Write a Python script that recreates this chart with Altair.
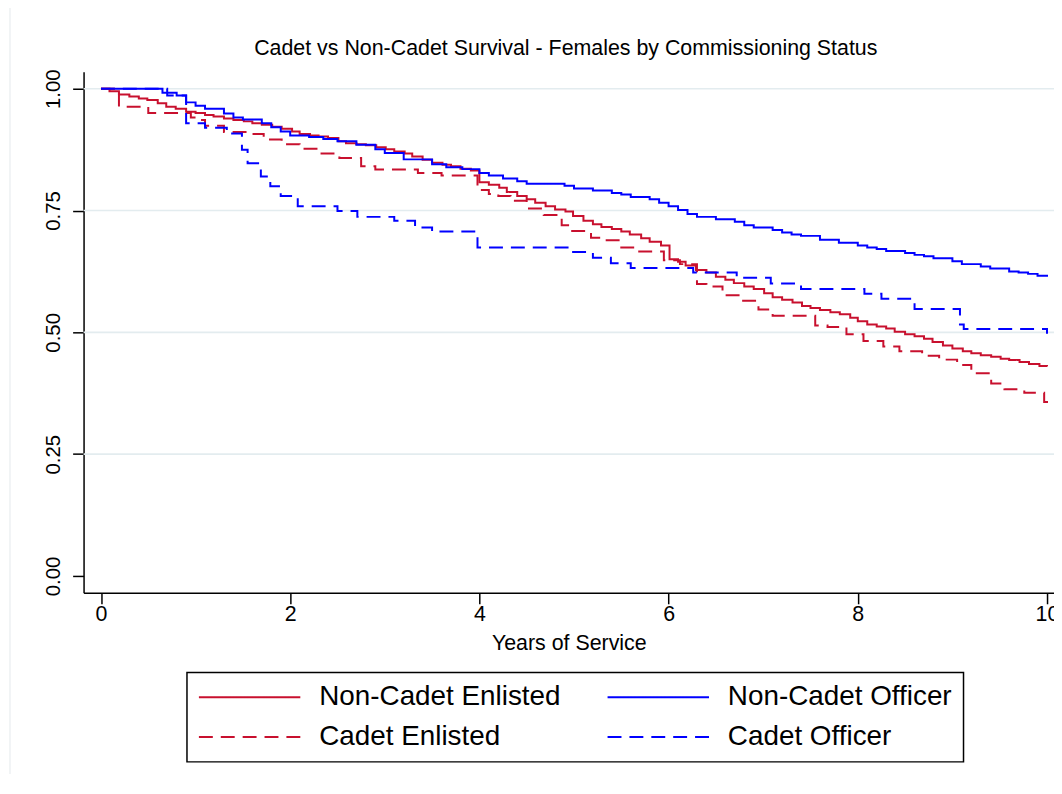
import altair as alt
import pandas as pd

TITLE = "Cadet vs Non-Cadet Survival - Females by Commissioning Status"
X_TITLE = "Years of Service"
series_names = ["Non-Cadet Enlisted", "Non-Cadet Officer", "Cadet Enlisted", "Cadet Officer"]
series_colors = ["#C8102E", "#0000FF", "#C8102E", "#0000FF"]
series_dash = [[1, 0], [1, 0], [14, 8], [14, 8]]
x_ticks = [0, 2, 4, 6, 8, 10]
y_ticks = [0, 0.25, 0.5, 0.75, 1.0]
grid_values = [0.25, 0.5, 0.75, 1.0]

# Non-Cadet Enlisted (red solid)
nce_t = [0, 0.09, 0.19, 0.3, 0.4, 0.49, 0.6, 0.69, 0.79, 0.9,
         1.0, 1.1, 1.19, 1.3, 1.4, 1.51, 1.6, 1.7, 1.81, 1.91,
         2.02, 2.1, 2.21, 2.3, 2.4, 2.51, 2.59, 2.7, 2.8, 2.91,
         3.01, 3.1, 3.21, 3.29, 3.4, 3.5, 3.61, 3.7, 3.8, 3.91,
         4.0, 4.1, 4.21, 4.29, 4.4, 4.5, 4.59, 4.7, 4.8, 4.91,
         4.99, 5.1, 5.2, 5.29, 5.4, 5.5, 5.59, 5.71, 5.8, 5.92,
         6.01, 6.1, 6.18, 6.29, 6.4, 6.5, 6.6, 6.69, 6.8, 6.9,
         7.01, 7.1, 7.2, 7.31, 7.41, 7.5, 7.6, 7.71, 7.81, 7.92,
         8.0, 8.1, 8.2, 8.3, 8.39, 8.5, 8.6, 8.7, 8.79, 8.9,
         9.0, 9.11, 9.2, 9.3, 9.41, 9.51, 9.6, 9.71, 9.81, 9.92,
         10.0]
nce_s = [1.0, 0.995, 0.988, 0.984, 0.98, 0.977, 0.97, 0.963, 0.959, 0.953,
         0.95, 0.946, 0.943, 0.939, 0.936, 0.933, 0.929, 0.926, 0.922, 0.918,
         0.912, 0.907, 0.904, 0.902, 0.899, 0.892, 0.888, 0.886, 0.884, 0.88,
         0.876, 0.871, 0.867, 0.861, 0.854, 0.848, 0.844, 0.841, 0.836, 0.832,
         0.808, 0.803, 0.797, 0.788, 0.78, 0.773, 0.766, 0.759, 0.752, 0.748,
         0.739, 0.729, 0.722, 0.716, 0.712, 0.707, 0.701, 0.693, 0.686, 0.678,
         0.65, 0.645, 0.637, 0.628, 0.623, 0.614, 0.608, 0.601, 0.594, 0.589,
         0.58, 0.572, 0.567, 0.561, 0.554, 0.55, 0.546, 0.541, 0.537, 0.53,
         0.523, 0.516, 0.512, 0.508, 0.501, 0.496, 0.492, 0.487, 0.48, 0.473,
         0.467, 0.461, 0.457, 0.453, 0.45, 0.446, 0.443, 0.439, 0.435, 0.431,
         0.43]

# Non-Cadet Officer (blue solid)
nco_t = [0, 0.65, 0.8, 0.9, 1.0, 1.1, 1.3, 1.4, 1.5, 1.7,
         1.8, 1.9, 2.0, 2.2, 2.35, 2.5, 2.7, 2.9, 3.0, 3.2,
         3.5, 3.65, 3.82, 4.0, 4.1, 4.25, 4.4, 4.5, 4.9, 5.0,
         5.2, 5.4, 5.5, 5.6, 5.8, 5.9, 6.0, 6.1, 6.2, 6.3,
         6.5, 6.7, 6.8, 6.9, 7.1, 7.2, 7.3, 7.4, 7.6, 7.8,
         8.0, 8.1, 8.2, 8.3, 8.5, 8.6, 8.7, 8.8, 9.0, 9.1,
         9.3, 9.4, 9.6, 9.7, 9.8, 9.9, 10.0]
nco_s = [1.0, 0.992, 0.986, 0.972, 0.965, 0.959, 0.949, 0.941, 0.937, 0.929,
         0.921, 0.912, 0.904, 0.901, 0.897, 0.892, 0.885, 0.876, 0.868, 0.855,
         0.845, 0.839, 0.835, 0.827, 0.822, 0.816, 0.81, 0.805, 0.801, 0.795,
         0.791, 0.786, 0.783, 0.778, 0.773, 0.766, 0.759, 0.751, 0.743, 0.737,
         0.732, 0.727, 0.72, 0.715, 0.71, 0.705, 0.701, 0.698, 0.69, 0.684,
         0.678, 0.674, 0.671, 0.667, 0.663, 0.659, 0.656, 0.652, 0.646, 0.64,
         0.635, 0.631, 0.625, 0.623, 0.62, 0.616, 0.614]

# Cadet Enlisted (red dashed)
ce_t = [0, 0.19, 0.5, 0.95, 1.05, 1.1, 1.3, 1.55, 1.72, 1.91,
        2.1, 2.32, 2.52, 2.75, 2.9, 3.35, 3.6, 3.98, 4.1, 4.2,
        4.33, 4.5, 4.68, 4.87, 4.97, 5.18, 5.3, 5.5, 5.66, 5.95,
        6.12, 6.3, 6.4, 6.57, 6.77, 6.95, 7.1, 7.55, 7.68, 7.88,
        8.06, 8.27, 8.44, 8.68, 8.86, 9.05, 9.2, 9.41, 9.55, 9.76,
        9.97, 10.0]
ce_s = [1.0, 0.963, 0.95, 0.941, 0.936, 0.924, 0.911, 0.907, 0.896, 0.886,
        0.877, 0.867, 0.858, 0.841, 0.834, 0.827, 0.822, 0.792, 0.784, 0.78,
        0.77, 0.754, 0.741, 0.72, 0.708, 0.694, 0.689, 0.674, 0.666, 0.648,
        0.64, 0.599, 0.594, 0.576, 0.565, 0.547, 0.534, 0.514, 0.511, 0.496,
        0.482, 0.471, 0.461, 0.452, 0.444, 0.433, 0.416, 0.395, 0.383, 0.376,
        0.357, 0.355]

# Cadet Officer (blue dashed)
co_t = [0, 0.7, 0.9, 1.1, 1.33, 1.49, 1.55, 1.69, 1.79, 1.9,
        2.08, 2.5, 2.71, 3.1, 3.32, 3.5, 3.98, 4.97, 5.2, 5.39,
        5.6, 6.26, 6.72, 7.08, 7.4, 8.07, 8.25, 8.6, 9.08, 9.12,
        10.0]
co_s = [1.0, 0.986, 0.929, 0.92, 0.908, 0.875, 0.847, 0.82, 0.8, 0.78,
        0.759, 0.749, 0.737, 0.729, 0.715, 0.707, 0.674, 0.665, 0.653, 0.642,
        0.632, 0.623, 0.612, 0.6, 0.589, 0.579, 0.569, 0.548, 0.516, 0.507,
        0.497]

rows = []
for name, ts, ss in [(series_names[0], nce_t, nce_s), (series_names[1], nco_t, nco_s),
                     (series_names[2], ce_t, ce_s), (series_names[3], co_t, co_s)]:
    for i, (t, s) in enumerate(zip(ts, ss)):
        rows.append({"series": name, "t": t, "s": s, "i": i})
df = pd.DataFrame(rows)

FONT = "Liberation Sans"
W, H = 976, 524
x_scale = alt.Scale(domain=[-0.184, 10.074], nice=False, zero=False)
y_scale = alt.Scale(domain=[-0.0347, 1.0347], nice=False, zero=False)

x_axis = alt.Axis(values=x_ticks, title=X_TITLE, grid=False, format="d",
                  tickSize=11, tickWidth=1.5, tickColor="black",
                  domainColor="black", domainWidth=1.5,
                  labelFont=FONT, labelFontSize=21.5, labelColor="black",
                  labelPadding=0, labelFlush=False,
                  titleFont=FONT, titleFontSize=21.5, titleFontWeight="normal",
                  titleColor="black", titlePadding=7)
y_axis = alt.Axis(values=y_ticks, title=None, grid=False, format=".2f",
                  tickSize=11, tickWidth=1.5, tickColor="black",
                  domainColor="black", domainWidth=1.5,
                  labelFont=FONT, labelFontSize=20.5, labelColor="black",
                  labelAngle=270, labelAlign="center", labelBaseline="alphabetic",
                  labelPadding=13)

grid = alt.Chart(pd.DataFrame({"s": grid_values})).mark_rule(
    color="#E3ECEF", strokeWidth=1.6
).encode(
    y=alt.Y("s:Q", scale=y_scale, axis=y_axis),
    x=alt.value(0), x2=alt.value(W)
)

# faint outer frame line at the far left of the graph region
frame = alt.Chart(pd.DataFrame({"k": [0]})).mark_rule(
    color="#E9EDEF", strokeWidth=1.2
).encode(x=alt.value(-74), y=alt.value(-70), y2=alt.value(H + 200))

# chart title drawn as a text mark (kept as real text)
title_mark = alt.Chart(pd.DataFrame({"title": [TITLE]})).mark_text(
    font=FONT, fontSize=21.5, color="black", align="center", baseline="alphabetic"
).encode(text="title:N", x=alt.value(W / 2 - 3), y=alt.value(-17))

legend = alt.Legend(orient="none", legendX=104, legendY=604, columns=2,
                    direction="horizontal", clipHeight=28,
                    symbolType="stroke", symbolSize=10404, symbolStrokeWidth=2,
                    labelFont=FONT, labelFontSize=28, labelColor="black",
                    labelLimit=600, labelOffset=18, columnPadding=46,
                    rowPadding=12, padding=11, strokeColor="black")

lines = alt.Chart(df).mark_line(interpolate="step-after", strokeWidth=2).encode(
    x=alt.X("t:Q", scale=x_scale, axis=x_axis),
    y=alt.Y("s:Q", scale=y_scale, axis=y_axis),
    color=alt.Color("series:N", title=None,
                    scale=alt.Scale(domain=series_names, range=series_colors),
                    legend=legend),
    strokeDash=alt.StrokeDash("series:N", title=None,
                              scale=alt.Scale(domain=series_names, range=series_dash),
                              legend=legend),
    order=alt.Order("i:Q"),
)

chart = alt.layer(frame, grid, lines, title_mark).properties(
    width=W, height=H,
    padding={"left": 76, "top": 62, "right": 0, "bottom": 180},
    autosize=alt.AutoSizeParams(type="none"),
    background="white",
).configure_view(strokeWidth=0).configure_legend(strokeWidth=1.5)

chart.save("out.html", embed_options={"renderer": "svg", "actions": False})
